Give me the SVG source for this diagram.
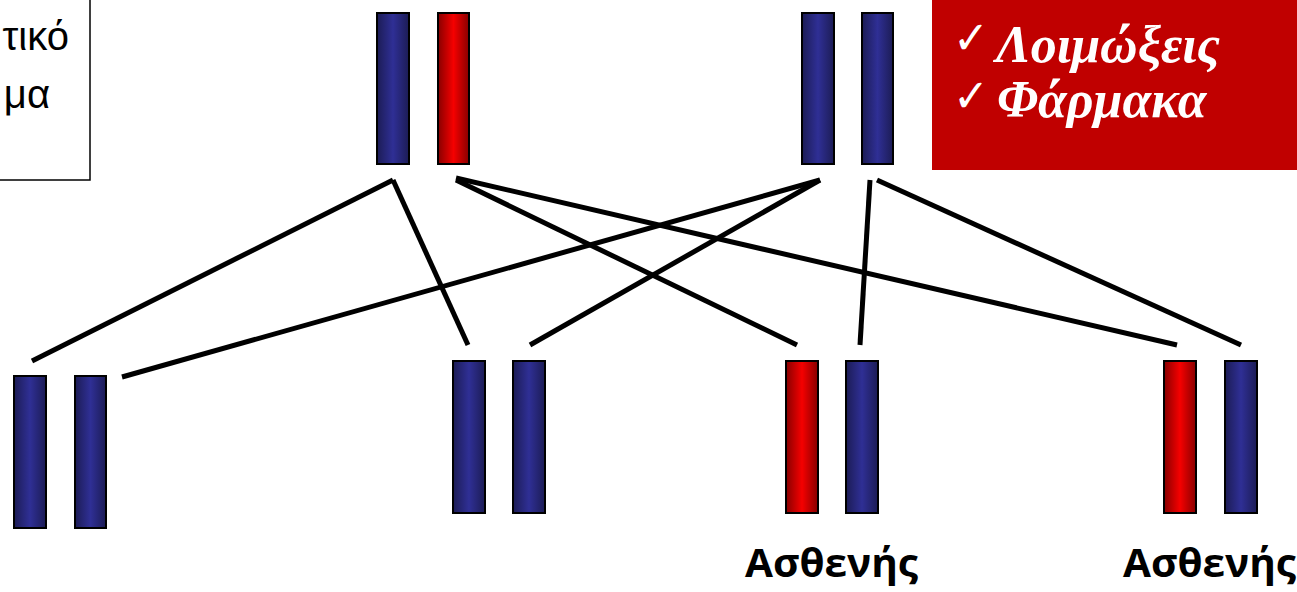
<svg xmlns="http://www.w3.org/2000/svg" width="1297" height="592" viewBox="0 0 1297 592">
<defs>
<linearGradient id="gb" x1="0" y1="0" x2="1" y2="0">
<stop offset="0" stop-color="#1c1c55"/><stop offset="0.5" stop-color="#2f2f95"/><stop offset="1" stop-color="#1c1c55"/>
</linearGradient>
<linearGradient id="gr" x1="0" y1="0" x2="1" y2="0">
<stop offset="0" stop-color="#880000"/><stop offset="0.5" stop-color="#f50000"/><stop offset="1" stop-color="#880000"/>
</linearGradient>
</defs>
<style>
.b{fill:url(#gb);stroke:#000;stroke-width:2}
.r{fill:url(#gr);stroke:#000;stroke-width:2}
.c line{stroke:#000;stroke-width:5;stroke-linecap:butt}
.lbl{font-family:"Open Sans","DejaVu Sans",sans-serif;font-weight:bold;font-size:39px;fill:#000}
.it{font-family:"Liberation Serif",serif;font-weight:bold;font-style:italic;font-size:52px;fill:#fff}
.ck{font-family:"DejaVu Sans",sans-serif;font-weight:bold;font-size:46px;fill:#fff}
.bx{font-family:"Liberation Sans",sans-serif;font-size:40px;fill:#000}
</style>
<rect width="1297" height="592" fill="#fff"/>
<g id="note">
<rect x="-5" y="-5" width="95" height="185" fill="#fff" stroke="#000" stroke-width="1.5"/>
<text class="bx" x="69" y="50" text-anchor="end">τικό</text>
<text class="bx" x="50" y="108" text-anchor="end">μα</text>
</g>
<g id="factors">
<rect x="932" y="0" width="365" height="170" fill="#c00000"/>
<text class="ck" x="953" y="54" textLength="36" lengthAdjust="spacingAndGlyphs">✓</text>
<text class="it" x="996" y="62">Λοιμώξεις</text>
<text class="ck" x="953" y="112" textLength="36" lengthAdjust="spacingAndGlyphs">✓</text>
<text class="it" x="997" y="117">Φάρμακα</text>
</g>
<g class="c" id="connectors">
<line x1="393" y1="180" x2="32" y2="361"/>
<line x1="393" y1="180" x2="468" y2="345"/>
<line x1="456" y1="180" x2="797" y2="345"/>
<line x1="456" y1="178" x2="1177" y2="345"/>
<line x1="820" y1="180" x2="122" y2="377"/>
<line x1="820" y1="180" x2="530" y2="345"/>
<line x1="870" y1="180" x2="860" y2="345"/>
<line x1="877" y1="180" x2="1241" y2="345"/>
</g>
<g id="parent1"><rect class="b" x="377" y="13" width="32" height="151"/><rect class="r" x="438" y="13" width="31" height="151"/></g>
<g id="parent2"><rect class="b" x="802" y="13" width="32" height="151"/><rect class="b" x="862" y="13" width="31" height="151"/></g>
<g id="child1"><rect class="b" x="14" y="376" width="32" height="152"/><rect class="b" x="75" y="376" width="31" height="152"/></g>
<g id="child2"><rect class="b" x="453" y="361" width="32" height="152"/><rect class="b" x="513" y="361" width="32" height="152"/></g>
<g id="child3"><rect class="r" x="786" y="361" width="32" height="152"/><rect class="b" x="846" y="361" width="32" height="152"/>
<text class="lbl" x="745" y="577" textLength="173" lengthAdjust="spacingAndGlyphs">Ασθενής</text></g>
<g id="child4"><rect class="r" x="1164" y="361" width="32" height="152"/><rect class="b" x="1225" y="361" width="32" height="152"/>
<text class="lbl" x="1123" y="577" textLength="173" lengthAdjust="spacingAndGlyphs">Ασθενής</text></g>
</svg>
